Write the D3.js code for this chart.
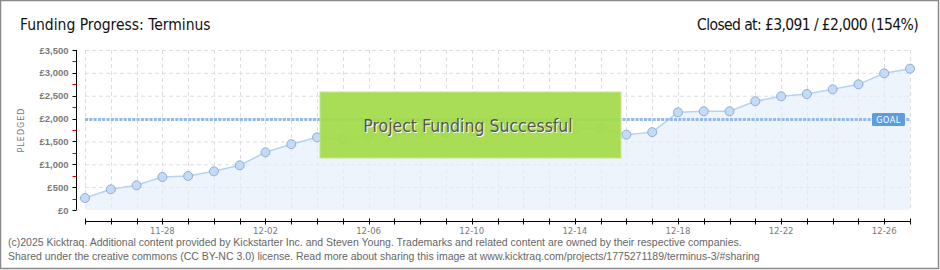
<!DOCTYPE html>
<html>
<head>
<meta charset="utf-8">
<script src="https://cdn.jsdelivr.net/npm/d3@7/dist/d3.min.js"></script>
<style>
  body { margin: 0; background: #fff; }
  svg { display: block; }
</style>
</head>
<body>
<svg width="940" height="270"></svg>
<script>

var title = "Funding Progress: Terminus",
    closedText = "Closed at: £3,091 / £2,000 (154%)",
    bannerText = "Project Funding Successful",
    footer = [
      "(c)2025 Kicktraq. Additional content provided by Kickstarter Inc. and Steven Young. Trademarks and related content are owned by their respective companies.",
      "Shared under the creative commons (CC BY-NC 3.0) license. Read more about sharing this image at www.kicktraq.com/projects/1775271189/terminus-3/#sharing"
    ];

var goal = 2000;
var startDay = "2025-11-25";
// pledged total per day, 11-25 .. 12-27
var pledged = [262, 452, 540, 722, 744, 846, 977, 1262, 1440, 1590,
               1546, 1634, 1655, 1677, 1700, 1720, 1740, 1760, 1775, 1787,
               1787, 1648, 1703, 2137, 2159, 2159, 2378, 2487, 2537, 2640,
               2749, 2990, 3091];
var yTicks = [0, 500, 1000, 1500, 2000, 2500, 3000, 3500];

var parseDay = d3.utcParse("%Y-%m-%d");
var data = pledged.map(function(v, i) {
  return { date: d3.utcDay.offset(parseDay(startDay), i), value: v };
});

var svg = d3.select("svg");

svg.append("rect")
    .attr("x", 0.5).attr("y", 0.5)
    .attr("width", 938).attr("height", 268)
    .attr("fill", "#fff")
    .attr("stroke", "#8a8a8a")
    .attr("stroke-width", 1.5);

var x = d3.scaleUtc()
    .domain(d3.extent(data, function(d) { return d.date; }))
    .range([85, 910]);

var y = d3.scaleLinear()
    .domain([0, 3500])
    .range([210, 50]);

var days = d3.utcDay.range(x.domain()[0], d3.utcDay.offset(x.domain()[1], 1));
var fmt = d3.utcFormat("%m-%d");

// grid
var grid = svg.append("g").attr("stroke", "#dedede").attr("stroke-dasharray", "4,3");
grid.selectAll(".h").data(yTicks.slice(1)).enter().append("line")
    .attr("x1", 85).attr("x2", 910)
    .attr("y1", function(d) { return y(d) + 0.5; })
    .attr("y2", function(d) { return y(d) + 0.5; });
grid.selectAll(".v").data(days).enter().append("line")
    .attr("x1", function(d) { return Math.round(x(d)) + 0.5; })
    .attr("x2", function(d) { return Math.round(x(d)) + 0.5; })
    .attr("y1", 50).attr("y2", 210);

// area + line
svg.append("path")
    .datum(data)
    .attr("fill", "#e3eefb")
    .attr("fill-opacity", 0.65)
    .attr("d", d3.area()
      .x(function(d) { return x(d.date); })
      .y0(y(0))
      .y1(function(d) { return y(d.value); }));

svg.append("path")
    .datum(data)
    .attr("fill", "none")
    .attr("stroke", "#b5d3f2")
    .attr("stroke-width", 1.5)
    .attr("d", d3.line()
      .x(function(d) { return x(d.date); })
      .y(function(d) { return y(d.value); }));

// goal line
svg.append("line")
    .attr("x1", 85).attr("x2", 910)
    .attr("y1", Math.round(y(goal)) + 0.5).attr("y2", Math.round(y(goal)) + 0.5)
    .attr("stroke", "#93b9e4")
    .attr("stroke-width", 3)
    .attr("stroke-dasharray", "3,1.3");

// points
svg.selectAll(".pt").data(data).enter().append("circle")
    .attr("cx", function(d) { return x(d.date); })
    .attr("cy", function(d) { return y(d.value); })
    .attr("r", 4.5)
    .attr("fill", "#c3dbf6")
    .attr("stroke", "#8eafd6")
    .attr("stroke-width", 1);

// goal tag
var gy = Math.round(y(goal));
svg.append("rect")
    .attr("x", 872).attr("y", gy - 6)
    .attr("width", 33).attr("height", 13)
    .attr("rx", 1.5)
    .attr("fill", "#5b9ddf");
svg.append("text")
    .attr("x", 888.5).attr("y", gy + 4)
    .attr("text-anchor", "middle")
    .attr("fill", "#fff")
    .style("font", "8px 'DejaVu Sans'")
    .style("letter-spacing", "0.5px")
    .text("GOAL");

// y axis
var yAxis = svg.append("g").attr("transform", "translate(76.5,0)");
yAxis.append("line").attr("y1", y(3500)).attr("y2", y(0)).attr("stroke", "#000");
yAxis.selectAll(".minor").data(d3.range(250, 3500, 500)).enter().append("line")
    .attr("x1", -4).attr("x2", 0)
    .attr("y1", function(d) { return Math.round(y(d)) + 0.5; })
    .attr("y2", function(d) { return Math.round(y(d)) + 0.5; })
    .attr("stroke", "#e00000");
yAxis.selectAll(".major").data(yTicks).enter().append("line")
    .attr("x1", -4).attr("x2", 0)
    .attr("y1", function(d) { return Math.round(y(d)) + 0.5; })
    .attr("y2", function(d) { return Math.round(y(d)) + 0.5; })
    .attr("stroke", "#000");
yAxis.selectAll("text").data(yTicks).enter().append("text")
    .attr("x", -8)
    .attr("y", function(d) { return y(d) + 3.5; })
    .attr("text-anchor", "end")
    .attr("fill", "#7a7a7a")
    .style("font", "bold 9.5px 'Liberation Sans'")
    .text(function(d) { return "£" + d3.format(",")(d); });

svg.append("text")
    .attr("transform", "translate(24,130) rotate(-90)")
    .attr("text-anchor", "middle")
    .attr("fill", "#7a7a7a")
    .style("font", "8px 'DejaVu Sans'")
    .style("letter-spacing", "1px")
    .text("PLEDGED");

// x axis
var xAxis = svg.append("g").attr("transform", "translate(0,221.5)");
xAxis.append("line").attr("x1", 85).attr("x2", 910).attr("stroke", "#000");
xAxis.selectAll(".tk").data(days).enter().append("line")
    .attr("x1", function(d) { return Math.round(x(d)) + 0.5; })
    .attr("x2", function(d) { return Math.round(x(d)) + 0.5; })
    .attr("y1", -3).attr("y2", 3)
    .attr("stroke", "#000");
xAxis.selectAll("text").data(days.filter(function(d, i) { return i % 4 === 3; })).enter().append("text")
    .attr("x", function(d) { return x(d); })
    .attr("y", 12)
    .attr("text-anchor", "middle")
    .attr("fill", "#7a7a7a")
    .style("font", "9.5px 'DejaVu Sans Condensed'")
    .text(function(d) { return fmt(d); });

// success banner
var banner = svg.append("g");
banner.append("rect")
    .attr("x", 320).attr("y", 92)
    .attr("width", 301).attr("height", 66)
    .attr("fill", "#a3da48")
    .attr("fill-opacity", 0.93)
    .attr("stroke", "#c4e88e")
    .attr("stroke-width", 1);
banner.append("text")
    .attr("x", 469).attr("y", 133)
    .attr("text-anchor", "middle")
    .attr("fill", "#fff")
    .style("font", "17.5px 'DejaVu Sans Condensed'")
    .text(bannerText);
banner.append("text")
    .attr("x", 468).attr("y", 132)
    .attr("text-anchor", "middle")
    .attr("fill", "#555")
    .style("font", "17.5px 'DejaVu Sans Condensed'")
    .text(bannerText);

// titles
svg.append("text")
    .attr("x", 20).attr("y", 30)
    .attr("fill", "#111")
    .style("font", "15.5px 'DejaVu Sans Condensed'")
    .text(title);
svg.append("text")
    .attr("x", 918).attr("y", 30)
    .attr("text-anchor", "end")
    .attr("fill", "#111")
    .style("font", "15.5px 'DejaVu Sans Condensed'")
    .style("letter-spacing", "-0.6px")
    .text(closedText);

// footer
svg.selectAll(".foot").data(footer).enter().append("text")
    .attr("x", 8)
    .attr("y", function(d, i) { return 246 + i * 14; })
    .attr("fill", "#666")
    .style("font", "10.5px 'Liberation Sans'")
    .text(function(d) { return d; });

</script>
</body>
</html>
